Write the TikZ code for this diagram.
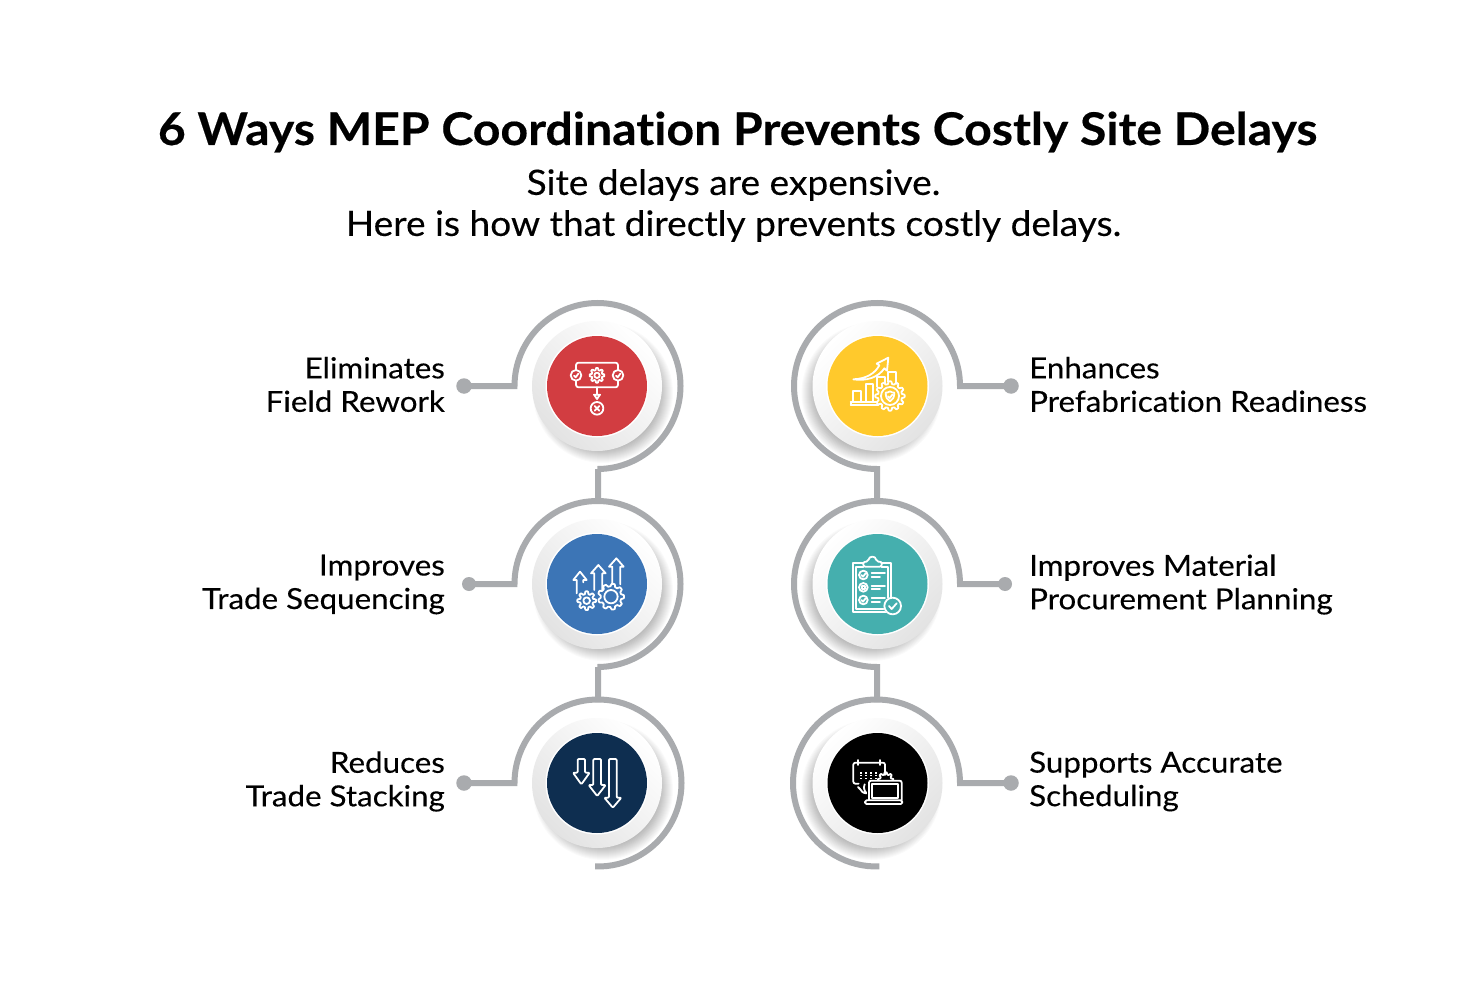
\documentclass[tikz,border=0pt]{standalone}
\usepackage{fontspec}
\setmainfont[FakeStretch=1.08,Ligatures=NoCommon,FakeBold=0.25]{Lato}
\newfontfamily\titlefont[FakeStretch=1.07,Ligatures=NoCommon,FakeBold=0.4]{Lato Bold}
\newfontfamily\subfont[FakeStretch=1.06,Ligatures=NoCommon,FakeBold=0.25]{Lato}
\usetikzlibrary{calc}
\definecolor{ringgray}{HTML}{A9ABAE}
\definecolor{cRed}{HTML}{D23D41}
\definecolor{cBlue}{HTML}{3C75B6}
\definecolor{cTeal}{HTML}{45AFAE}
\definecolor{cNavy}{HTML}{0E2E50}
\definecolor{cYellow}{HTML}{FFC92C}
\tikzset{
  ringline/.style={draw=ringgray,line width=6pt,miter limit=10,line join=miter},
  dotnode/.style={circle,fill=ringgray,inner sep=0pt,minimum size=#1},
  icon/.style={draw=white,line width=1.8pt,line join=round,line cap=round},
  lbl/.style={inner sep=0pt,font=\fontsize{29}{33.5}\selectfont,text=black},
  lblL/.style={lbl,align=right,anchor=east},
  lblR/.style={lbl,align=left,anchor=west},
}
\newcommand{\discL}[2]{%
  \foreach \k in {0,...,13}{\fill[black,opacity=.02] (#1)++(6,7) circle[radius=57+\k];}
  \shade[top color=white,bottom color=black!11,shading angle=-45] (#1) circle[radius=65];
  \fill[white] (#1) circle[radius=51.5];
  \fill[#2] (#1) circle[radius=50];}
\newcommand{\discR}[2]{%
  \foreach \k in {0,...,13}{\fill[black,opacity=.02] (#1)++(-6,7) circle[radius=57+\k];}
  \shade[top color=white,bottom color=black!11,shading angle=45] (#1) circle[radius=65];
  \fill[white] (#1) circle[radius=51.5];
  \fill[#2] (#1) circle[radius=50];}
\newcommand{\gearshape}[6]{% x y mid amp teeth samples
  \draw[icon] plot[domain=0:360,samples=#6,variable=\t]
   ({#1+(#3+#4*max(-1,min(1,1.8*cos(#5*\t))))*cos(\t)},{#2+(#3+#4*max(-1,min(1,1.8*cos(#5*\t))))*sin(\t)}) -- cycle;}
\newcommand{\uparr}[6]{% stemL stemR tip headY rightbottom leftbottom
  \draw[icon] (#1,#6) -- (#1,#4) -- (#1-10,#4) -- ({(#1+#2)/2},#3) -- (#2+10,#4) -- (#2,#4) -- (#2,#5) ;}
\newcommand{\downarr}[5]{% stemL stemR top headY tipY
  \draw[icon,rounded corners=1pt] (#1,#3) -- (#1,#4) -- (#1-14,#4) -- ({(#1+#2)/2},#5) -- (#2+14,#4) -- (#2,#4) -- (#2,#3) -- cycle;}
\begin{document}
\begin{tikzpicture}[x=1pt,y=-1pt]
\useasboundingbox (0,0) rectangle (1475,995);
\fill[white] (0,0) rectangle (1475,995);

% title
\node[inner sep=0pt] (title) at (737.5,132) {\fontsize{45}{50}\titlefont\selectfont 6 Ways MEP Coordination Prevents Costly Site Delays};
\node[inner sep=0pt] (sub1) at (733.5,185) {\fontsize{35}{40}\subfont\selectfont Site delays are expensive.};
\node[inner sep=0pt] (sub2) at (733.5,226) {\fontsize{35}{40}\subfont\selectfont Here is how that directly prevents costly delays.};

% centres
\coordinate (cR1) at (877.5,386); \coordinate (cR2) at (877.5,584); \coordinate (cR3) at (877.5,783);
\coordinate (iL1) at (597,386); \coordinate (iL2) at (597,584); \coordinate (iL3) at (597,783);

% end dots
\node[dotnode=15.5pt] (dL1) at (464,386) {};
\node[dotnode=14pt]   (dL2) at (469,584) {};
\node[dotnode=15.5pt] (dL3) at (464,783) {};
\node[dotnode=15.5pt] (dR1) at (1011,386) {};
\node[dotnode=14pt]   (dR2) at (1005,584) {};
\node[dotnode=15.5pt] (dR3) at (1011,783) {};

% connectors and rings
\draw[ringline] (dL1.center) -- (514.5,386) arc[start angle=180,end angle=450,radius=83] -- (598,469) -- (598,503);
\draw[ringline] (dL2.center) -- (514.5,584) arc[start angle=180,end angle=450,radius=83] -- (598,667) -- (598,702);
\draw[ringline] (dL3.center) -- (514.5,783) arc[start angle=180,end angle=452,radius=83.5];
\draw[ringline] (dR1.center) -- (960,386) arc[start angle=360,end angle=90,radius=83] -- (877,469) -- (877,503);
\draw[ringline] (dR2.center) -- (960,584) arc[start angle=360,end angle=90,radius=83] -- (877,667) -- (877,702);
\draw[ringline] (dR3.center) -- (960,783) arc[start angle=360,end angle=88,radius=83.5];

% discs
\discL{iL1}{cRed}\discL{iL2}{cBlue}\discL{iL3}{cNavy}
\discR{cR1}{cYellow}\discR{cR2}{cTeal}\discR{cR3}{black}

% labels
\node[lblL] (tL1) at (445,384.5) {Eliminates\\Field Rework};
\node[lblL] (tL2) at (445,584.5) {Improves\\Trade Sequencing};
\node[lblL] (tL3) at (445,781.5) {Reduces\\Trade Stacking};
\node[lblR] (tR1) at (1029,384.5) {Enhances\\Prefabrication Readiness};
\node[lblR] (tR2) at (1029,584.5) {Improves Material\\Procurement Planning};
\node[lblR] (tR3) at (1029,781.5) {Supports Accurate\\Scheduling};

% ---- red icon
\begin{scope}[shift={(540,330)},scale=1/3]
 \draw[icon,rounded corners=2.5pt] (108,120) -- (108,98) -- (234,98) -- (234,120);
 \draw[icon,rounded corners=2.5pt] (108,152) -- (108,172) -- (234,172) -- (234,152);
 \foreach \x in {108,234}{
  \draw[icon] (\x,136) circle[radius=16];
  \draw[icon] (\x-6,137) -- (\x-1,142) -- (\x+7,131);}
 \gearshape{171}{136}{19}{3}{8}{97}
 \draw[icon] (171,136) circle[radius=8];
 \draw[icon] (171,172) -- (171,192);
 \draw[icon] (162,194) -- (180,194) -- (171,207) -- cycle;
 \draw[icon] (171,235) circle[radius=19];
 \draw[icon] (164,228) -- (178,242) (178,228) -- (164,242);
\end{scope}

% ---- blue icon
\begin{scope}[shift={(540,525)},scale=1/3]
 \uparr{110}{130}{140}{165}{172}{205}
 \uparr{163}{187}{120}{145}{195}{195}
 \uparr{217}{241}{100}{125}{178}{178}
 \gearshape{140}{227}{24}{4}{8}{97}
 \draw[icon] (140,227) circle[radius=10];
 \gearshape{213}{215}{35}{4}{9}{109}
 \draw[icon] (213,215) circle[radius=20];
\end{scope}

% ---- navy icon
\begin{scope}[shift={(540,725)},scale=1/3]
 \downarr{113}{135}{102}{143}{178}
 \downarr{160}{183}{102}{180}{213}
 \downarr{207}{230}{102}{218}{248}
\end{scope}

% ---- yellow icon
\begin{scope}[shift={(820,330)},scale=1/3]
 \draw[icon] (100,148) .. controls (140,146) and (165,130) .. (178,106) -- (170,101) -- (205,83) -- (201,122) -- (193,115) .. controls (175,142) and (140,154) .. cycle;
 \draw[icon] (100,215) -- (100,182) -- (122,182) -- (122,215);
 \draw[icon] (137,215) -- (137,162) -- (160,162) -- (160,215);
 \draw[icon] (172,170) -- (172,140) -- (195,140) -- (195,158);
 \draw[icon] (205,155) -- (205,125) -- (228,125) -- (228,165);
 \draw[icon] (92,215) -- (172,215) (92,225) -- (175,225) (92,215) -- (92,225);
 \fill[cYellow] (210,198) circle[radius=40];
 \gearshape{210}{198}{40}{4}{12}{145}
 \draw[icon] (210,198) circle[radius=27];
 \draw[icon] (210,184) .. controls (214,187) and (219,188) .. (223,188) .. controls (223,202) and (218,210) .. (210,214) .. controls (202,210) and (197,202) .. (197,188) .. controls (201,188) and (206,187) .. cycle;
 \draw[icon] (204,199) -- (209,204) -- (217,194);
\end{scope}

% ---- teal icon
\begin{scope}[shift={(820,525)},scale=1/3]
 \draw[icon] (198,262) -- (98,262) -- (98,115) -- (130,115);
 \draw[icon] (185,115) -- (213,115) -- (213,218);
 \draw[icon] (190,252) -- (107,252) -- (107,125) -- (130,125) (185,125) -- (205,125) -- (205,218);
 \draw[icon,rounded corners=2pt] (130,125) -- (130,110) -- (145,110) .. controls (147,92) and (167,92) .. (169,110) -- (185,110) -- (185,125) -- cycle;
 \foreach \y/\d in {150/0,187/1,225/0}{
  \draw[icon] (130,\y) circle[radius=13];
  \draw[icon] (155,\y-5) -- (195,\y-5) (155,\y+5) -- (180,\y+5);
  \ifnum\d=0 \draw[icon] (124,\y) -- (129,\y+5) -- (137,\y-5);
  \else \draw[icon] (126,\y-4) rectangle (134,\y+4); \fi}
 \fill[cTeal] (218,243) circle[radius=27];
 \draw[icon] (218,243) circle[radius=25];
 \draw[icon] (207,243) -- (215,252) -- (230,235);
\end{scope}

% ---- black icon
\begin{scope}[shift={(820,725)},scale=1/3]
 \draw[icon,rounded corners=2pt] (116,176) -- (100,176) -- (100,113) -- (195,113) -- (195,150);
 \draw[icon] (140,205) .. controls (130,205) and (122,198) .. (120,192) (120,192) -- (114,186) (140,205) .. controls (132,197) and (130,188) .. (134,178);
 \draw[icon] (115,105) -- (115,120) (180,105) -- (180,120);
 \foreach \y in {142,150,158}\foreach \x in {120,135,150,165}{\fill[white] (\x,\y) rectangle ++(6,4);}
 \gearshape{197}{165}{20}{3}{8}{97}
 \fill[black] (142,167) rectangle (250,240);
 \draw[icon,rounded corners=2pt] (147,225) -- (147,167) -- (245,167) -- (245,225);
 \draw[icon] (157,177) rectangle (235,218);
 \draw[icon,rounded corners=1.5pt] (135,226) rectangle (247,237);
\end{scope}
\end{tikzpicture}
\end{document}
